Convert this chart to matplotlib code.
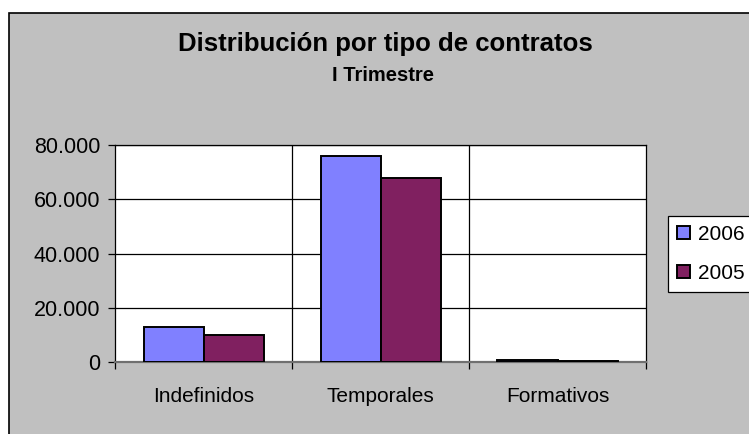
import matplotlib
matplotlib.use("Agg")
import matplotlib.pyplot as plt
from matplotlib.patches import Rectangle
from matplotlib.ticker import FuncFormatter
import numpy as np

plt.rcParams['font.family'] = ['Liberation Sans', 'DejaVu Sans']

categorias = ["Indefinidos", "Temporales", "Formativos"]
series = ["2006", "2005"]
valores_2006 = [13000, 75900, 700]
valores_2005 = [10050, 67600, 650]
colores = ["#8080FF", "#802060"]
yticks = [0, 20000, 40000, 60000, 80000]

W, H = 749, 434
fig = plt.figure(figsize=(W / 100, H / 100), dpi=100, facecolor="white")

# marco gris exterior (se sale por la derecha y por abajo)
fig.patches.append(Rectangle((9 / W, -0.05), 1.1, 1 - 12.5 / H + 0.05,
                             transform=fig.transFigure, facecolor="#C0C0C0",
                             edgecolor="black", linewidth=1.2, zorder=-10))

left, right, top, bottom = 115.3, 646.0, 144.7, 362.3
ax = fig.add_axes([left / W, 1 - bottom / H, (right - left) / W, (bottom - top) / H])
ax.set_facecolor("white")

x = np.arange(len(categorias))
w = 0.34
ax.bar(x - w / 2, valores_2006, w, color=colores[0], edgecolor="black",
       linewidth=1.4, label=series[0], zorder=3)
ax.bar(x + w / 2, valores_2005, w, color=colores[1], edgecolor="black",
       linewidth=1.4, label=series[1], zorder=3)

ax.set_xlim(-0.5, len(categorias) - 0.5)
ax.set_ylim(0, 80000)
ax.set_yticks(yticks)
ax.yaxis.set_major_formatter(FuncFormatter(lambda v, p: f"{int(v):,}".replace(",", ".")))
ax.tick_params(axis="y", direction="out", length=5, width=0.9, pad=6, labelsize=15.5, color="black")

ax.set_xticks(x)
ax.set_xticklabels(categorias, fontsize=15)
ax.set_xticks(np.arange(-0.5, len(categorias), 1.0), minor=True)
ax.tick_params(axis="x", which="major", length=0, pad=18)
ax.tick_params(axis="x", which="minor", direction="out", length=5, width=0.9, color="black")

for yv in yticks[1:]:
    ax.axhline(yv, color="black", linewidth=0.9, zorder=1)
for xv in [0.5, 1.5]:
    ax.axvline(xv, color="black", linewidth=0.9, zorder=1)

for s in ["left", "top", "right"]:
    ax.spines[s].set_color("black")
    ax.spines[s].set_linewidth(0.9)
ax.spines["bottom"].set_color("#707070")
ax.spines["bottom"].set_linewidth(1.6)

fig.text(0.514, 1 - 50.7 / H, "Distribución por tipo de contratos", ha="center",
         va="baseline", fontsize=18.5, fontweight="bold")
fig.text(0.511, 1 - 81 / H, "I Trimestre", ha="center", va="baseline",
         fontsize=14.5, fontweight="bold")

leg = fig.legend(loc="upper left", bbox_to_anchor=(667.7 / W, 1 - 215.5 / H),
                 fontsize=15, handlelength=0.6, handleheight=0.6, handletextpad=0.4,
                 labelspacing=0.95, borderpad=0.45, borderaxespad=0, fancybox=False,
                 framealpha=1, edgecolor="black", facecolor="white")
leg.get_frame().set_linewidth(0.9)

fig.savefig("out.png", dpi=100, facecolor="white")
